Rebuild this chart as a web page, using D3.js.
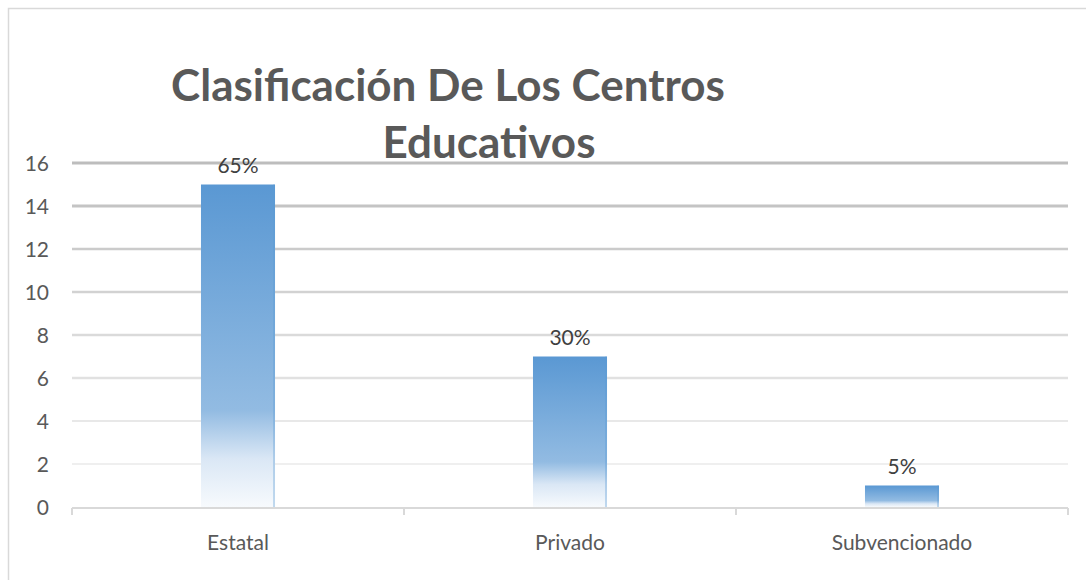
<!DOCTYPE html>
<html>
<head>
<meta charset="utf-8">
<script src="https://cdn.jsdelivr.net/npm/d3@7"></script>
<style>
  body { margin: 0; background: #fff; }
  svg { display: block; font-family: Lato, "Open Sans", sans-serif; }
</style>
</head>
<body>
<div id="chart"></div>
<script>
let wSvg = 1086; let hSvg = 580;

// data
const categories = ["Estatal", "Privado", "Subvencionado"];
const counts = [15, 7, 1];
const percentLabels = ["65%", "30%", "5%"];
const yTicks = [0, 2, 4, 6, 8, 10, 12, 14, 16];
const titleLines = ["Clasificación De Los Centros", "Educativos"];

let svg = d3.select("#chart")
    .append("svg")
    .attr("width", wSvg)
    .attr("height", hSvg);

// borde del area del grafico
svg.append("rect")
    .attr("x", 8.5).attr("y", 8.5)
    .attr("width", 1200).attr("height", 700)
    .attr("fill", "none")
    .attr("stroke", "#d9d9d9")
    .attr("stroke-width", 1.5);

const xScale = d3.scaleBand()
    .domain(categories)
    .range([72, 1068])
    .paddingInner(0.777)
    .paddingOuter(0.3885);

const xAxisScale = d3.scaleBand().domain(categories).range([72, 1068]);

const yScale = d3.scaleLinear()
    .domain([0, 16])
    .range([507, 163]);

// lineas de cuadricula: mas oscuras arriba, mas claras abajo
const gridColor = d3.scaleLinear().domain([2, 16]).range(["#efefef", "#bdbdbd"]);
const gridWidth = d3.scaleLinear().domain([2, 16]).range([2, 3]);

svg.append("g")
    .selectAll("line")
    .data(yTicks.filter(d => d > 0))
    .join("line")
    .attr("x1", 72).attr("x2", 1068)
    .attr("y1", d => yScale(d)).attr("y2", d => yScale(d))
    .attr("stroke", d => gridColor(d))
    .attr("stroke-width", d => gridWidth(d));

// cada barra con su propio gradiente (proporcional a su altura)
const defs = svg.append("defs");
categories.forEach((c, i) => {
    const g = defs.append("linearGradient")
        .attr("id", "barGrad" + i)
        .attr("x1", 0).attr("x2", 0).attr("y1", 0).attr("y2", 1);
    g.append("stop").attr("offset", "0%").attr("stop-color", "#5a98d3");
    g.append("stop").attr("offset", "70%").attr("stop-color", "#92bbe2");
    g.append("stop").attr("offset", "85%").attr("stop-color", "#dae7f5");
    g.append("stop").attr("offset", "100%").attr("stop-color", "#f7fafd");
});

svg.append("g")
    .selectAll("rect")
    .data(counts)
    .join("rect")
    .attr("x", (d, i) => xScale(categories[i]))
    .attr("y", d => yScale(d))
    .attr("width", xScale.bandwidth())
    .attr("height", d => yScale(0) - yScale(d))
    .attr("fill", (d, i) => `url(#barGrad${i})`);

// borde derecho sutil de las barras
svg.append("g")
    .selectAll("line")
    .data(counts)
    .join("line")
    .attr("x1", (d, i) => xScale(categories[i]) + xScale.bandwidth() - 1)
    .attr("x2", (d, i) => xScale(categories[i]) + xScale.bandwidth() - 1)
    .attr("y1", d => yScale(d))
    .attr("y2", yScale(0))
    .attr("stroke", "#5b9bd5")
    .attr("stroke-opacity", 0.35)
    .attr("stroke-width", 2);

// eje x
svg.append("line")
    .attr("x1", 72).attr("x2", 1068)
    .attr("y1", 508).attr("y2", 508)
    .attr("stroke", "#d9d9d9").attr("stroke-width", 2);

svg.append("g")
    .selectAll("line")
    .data(d3.range(categories.length + 1))
    .join("line")
    .attr("x1", i => i < categories.length ? xAxisScale(categories[i]) : 1068)
    .attr("x2", i => i < categories.length ? xAxisScale(categories[i]) : 1068)
    .attr("y1", 508).attr("y2", 515)
    .attr("stroke", "#d9d9d9").attr("stroke-width", 2);

svg.append("g")
    .selectAll("text")
    .data(categories)
    .join("text")
    .attr("x", d => xAxisScale(d) + xAxisScale.bandwidth() / 2)
    .attr("y", 550)
    .attr("text-anchor", "middle")
    .attr("fill", "#595959")
    .style("font-size", "21px")
    .text(d => d);

// eje y (solo etiquetas)
svg.append("g")
    .selectAll("text")
    .data(yTicks)
    .join("text")
    .attr("x", 49)
    .attr("y", d => yScale(d) + 7.5)
    .attr("text-anchor", "end")
    .attr("fill", "#595959")
    .style("font-size", "21px")
    .text(d => d);

// etiquetas de datos
svg.append("g")
    .selectAll("text")
    .data(counts)
    .join("text")
    .attr("x", (d, i) => xScale(categories[i]) + xScale.bandwidth() / 2)
    .attr("y", d => yScale(d) - 12)
    .attr("text-anchor", "middle")
    .attr("fill", "#404040")
    .style("font-size", "21px")
    .text((d, i) => percentLabels[i]);

// titulo
svg.append("text")
    .attr("x", 448).attr("y", 101)
    .attr("text-anchor", "middle")
    .attr("fill", "#595959")
    .style("font-size", "44px")
    .style("font-weight", "bold")
    .text(titleLines[0]);

svg.append("text")
    .attr("x", 489).attr("y", 158)
    .attr("text-anchor", "middle")
    .attr("fill", "#595959")
    .style("font-size", "44px")
    .style("font-weight", "bold")
    .text(titleLines[1]);
</script>
</body>
</html>
